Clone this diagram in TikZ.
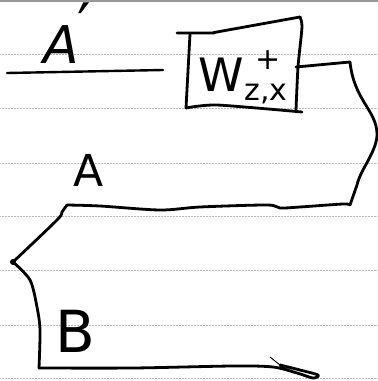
\documentclass[tikz,border=0pt]{standalone}
\usepackage{fontspec}
\setsansfont{DejaVu Sans}
\begin{document}
\begin{tikzpicture}[x=1pt,y=-1pt,
  ink/.style={line width=2.8pt, line cap=round, line join=round, black},
  ruled/.style={line width=0.5pt, gray!55, densely dotted},
  hand/.style={font=\sffamily, inner sep=0pt, text=black}]
\useasboundingbox (0,0) rectangle (378,381);
\fill[white] (0,0) rectangle (378,381);
% ruled paper lines
\draw[line width=1.2pt, gray!80] (0,1) -- (378,1);
\foreach \yy in {54,108,163,216,270,325,378}
  \draw[ruled] (0,\yy) -- (378,\yy);
% labels
\node[hand, font=\sffamily\fontsize{52}{52}\selectfont, anchor=base] (Aprime) at (61,63) {\itshape A};
\node[hand, font=\sffamily\fontsize{60}{60}\selectfont, anchor=north] (prime) at (84,3) {′};
\node[hand, font=\sffamily\fontsize{44}{44}\selectfont, anchor=base] (A) at (89,186) {A};
\node[hand, font=\sffamily\fontsize{58}{58}\selectfont, anchor=base] (B) at (75,352) {B};
% line under A'
\coordinate (u1) at (7,73);
\coordinate (u2) at (163,70);
\draw[ink, line width=2.4pt] (u1) -- (u2);
% box
\coordinate (b1) at (177,33);
\coordinate (b2) at (300,17);
\coordinate (b3) at (296,110);
\coordinate (b4) at (186,108);
\draw[ink] plot[smooth, tension=0.4] coordinates {(b1) (213,33) (217,32) (b2)};
\draw[ink] plot[smooth, tension=0.4] coordinates {(b2) (302,27) (298,67) (b3)};
\draw[ink] plot[smooth, tension=0.4] coordinates {(b4) (217,105) (302,112)};
\draw[ink] (190,34) -- (b4);
\node[hand, font=\sffamily\fontsize{46}{46}\selectfont, anchor=base] (W) at (221,91) {W};
\node[hand, font=\sffamily\fontsize{30}{30}\selectfont] (plus) at (268,60) {+};
\node[hand, font=\sffamily\fontsize{30}{30}\selectfont, anchor=base] (zx) at (266,100) {z,x};
% outline
\coordinate (r0) at (296,67);
\coordinate (r1) at (350,62);
\coordinate (r2) at (377,133);
\coordinate (r3) at (350,205);
\coordinate (l1) at (67,205);
\coordinate (l2) at (13,262);
\coordinate (l3) at (39,368);
\coordinate (t1) at (318,375);
\draw[ink] (r0) -- (r1);
\draw[ink] (r1) .. controls (354,100) and (376,110) .. (r2)
  .. controls (378,150) and (360,170) .. (357,185) -- (r3);
\draw[ink] plot[smooth, tension=0.5] coordinates {(r3) (343,204) (300,207) (280,208) (267,205) (200,207) (160,210) (100,206) (l1)};
\draw[ink] plot[smooth, tension=0.5] coordinates {(l1) (62,212) (57,220) (l2)};
\draw[ink] plot[smooth, tension=0.5] coordinates {(l2) (30,280) (37,307) (40,330) (l3)};
\draw[ink] plot[smooth, tension=0.5] coordinates {(l3) (133,368) (233,366) (273,367) (297,373) (313,378) (t1) (300,370) (280,365)};
\draw[ink, line width=1pt] (280,365) -- (270,357);
\fill (l2) circle (3pt);
\end{tikzpicture}
\end{document}
